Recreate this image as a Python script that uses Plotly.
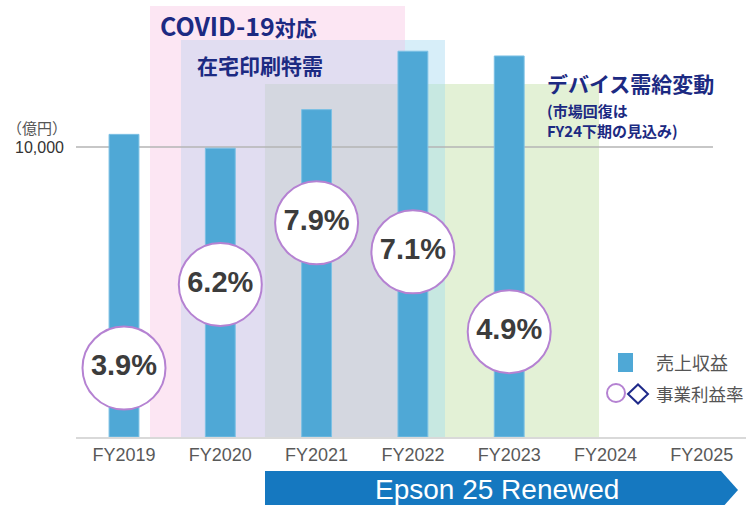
import plotly.graph_objects as go

# ---------------- data ----------------
fiscal_years = ["FY2019", "FY2020", "FY2021", "FY2022", "FY2023", "FY2024", "FY2025"]
revenue = [10436, 9959, 11289, 13303, 13139]          # 売上収益 (億円)
margin = [3.9, 6.2, 7.9, 7.1, 4.9]                    # 事業利益率 (%)
margin_labels = ["3.9%", "6.2%", "7.9%", "7.1%", "4.9%"]

# ---------------- layout constants ----------------
W, H = 746, 505
L, R, T, B = 76, 0, 0, 68
PW, PH = W - L - R, H - T - B

NAVY = "#1c2a82"
JP = "Noto Sans CJK JP"
LAT = "Liberation Sans, Arial"

def xp(px):
    return (px - L) / PW

def yp(py):
    return (H - B - py) / PH

xi = list(range(len(revenue)))

fig = go.Figure()

fig.add_trace(go.Bar(
    x=xi, y=revenue, width=0.31,
    marker=dict(color="#4fa8d6", line=dict(color="#7cc0e4", width=1)),
    hoverinfo="skip", showlegend=False,
))

fig.add_trace(go.Scatter(
    x=xi, y=margin, yaxis="y2", mode="markers+text",
    text=margin_labels, textposition="middle center",
    textfont=dict(family=LAT, size=29, color="#3c3c3c", weight="bold"),
    marker=dict(size=83, color="white", line=dict(color="#b582d2", width=2)),
    hoverinfo="skip", showlegend=False,
))

# background period shapes (category space / value space)
shapes = []
def rect(x0, x1, y0, y1, color):
    shapes.append(dict(type="rect", xref="x", yref="y", x0=x0, x1=x1, y0=y0, y1=y1,
                       fillcolor=color, line=dict(width=0), layer="below"))

rect(0.27, 2.918, 0, 14862, "#fce6f3")   # COVID-19
rect(0.592, 2.918, 0, 13690, "#e1ddf1")  # 在宅印刷特需
rect(2.918, 3.333, 0, 13690, "#d7eef9")
rect(1.464, 2.918, 0, 12172, "#d4d7e0")  # デバイス需給変動
rect(2.918, 3.333, 0, 12172, "#c7e8e1")
rect(3.333, 4.933, 0, 12172, "#e3f1d6")

# 10,000 reference line
shapes.append(dict(type="line", xref="x", yref="y", x0=-0.51, x1=6.116, y0=10000, y1=10000,
                   line=dict(color="#b4b4b4", width=1.5), layer="below"))

# legend markers
shapes.append(dict(type="rect", xref="paper", yref="paper",
                   x0=xp(618), x1=xp(633), y0=yp(372), y1=yp(353),
                   fillcolor="#4fa8d6", line=dict(width=0)))
shapes.append(dict(type="circle", xref="paper", yref="paper",
                   x0=xp(607), x1=xp(625), y0=yp(402), y1=yp(384),
                   fillcolor="white", line=dict(color="#b582d2", width=2)))
shapes.append(dict(type="path", xref="paper", yref="paper",
                   path=f"M {xp(628)} {yp(394)} L {xp(638)} {yp(384.5)} L {xp(648)} {yp(394)} "
                        f"L {xp(638)} {yp(403.5)} Z",
                   fillcolor="rgba(0,0,0,0)", line=dict(color="#1f2a8a", width=2)))

# Epson 25 Renewed banner
shapes.append(dict(type="path", xref="paper", yref="paper",
                   path=f"M {xp(265)} {yp(471)} L {xp(721)} {yp(471)} L {xp(738)} {yp(490)} "
                        f"L {xp(721)} {yp(509)} L {xp(265)} {yp(509)} Z",
                   fillcolor="#1578c0", line=dict(width=0)))

annotations = [
    dict(text="<span style='font-size:25px'>COVID-19</span>対応", x=xp(158), y=yp(25),
         xanchor="left", yanchor="middle", font=dict(family=JP, size=21, color=NAVY, weight="bold")),
    dict(text="在宅印刷特需", x=xp(195), y=yp(65),
         xanchor="left", yanchor="middle", font=dict(family=JP, size=21, color=NAVY, weight="bold")),
    dict(text="デバイス需給変動", x=xp(545), y=yp(83),
         xanchor="left", yanchor="middle", font=dict(family=JP, size=21, color=NAVY, weight="bold")),
    dict(text="(市場回復は<br>FY24下期の見込み)", x=xp(545), y=yp(120), align="left",
         xanchor="left", yanchor="middle", font=dict(family=JP, size=15, color=NAVY, weight="bold")),
    dict(text="（億円）", x=xp(69), y=yp(128),
         xanchor="right", yanchor="middle", font=dict(family=JP, size=15, color="#555555")),
    dict(text="売上収益", x=xp(654), y=yp(362),
         xanchor="left", yanchor="middle", font=dict(family=JP, size=18, color="#555555")),
    dict(text="事業利益率", x=xp(654), y=yp(393),
         xanchor="left", yanchor="middle", font=dict(family=JP, size=17.5, color="#555555")),
    dict(text="Epson 25 Renewed", x=xp(497), y=yp(489),
         xanchor="center", yanchor="middle", font=dict(family=LAT, size=28, color="white")),
]
for a in annotations:
    a.update(xref="paper", yref="paper", showarrow=False)

fig.update_layout(
    width=W, height=H,
    margin=dict(l=L, r=R, t=T, b=B, pad=0),
    paper_bgcolor="white", plot_bgcolor="white",
    shapes=shapes, annotations=annotations,
    hovermode=False,
    xaxis=dict(
        range=[(76 - 124) / 96.3, (746 - 124) / 96.3],
        tickvals=list(range(len(fiscal_years))), ticktext=fiscal_years,
        tickfont=dict(family=LAT, size=18, color="#595959"),
        ticks="", showgrid=False, zeroline=False,
        showline=True, linecolor="#d9d9d9", linewidth=2,
        fixedrange=True,
    ),
    yaxis=dict(
        range=[0, 437 / 0.029],
        tickvals=[10000], ticktext=["10,000"],
        tickfont=dict(family=LAT, size=16, color="#333333"),
        ticks="", ticklabelstandoff=11,
        showgrid=False, zeroline=False, showline=False, fixedrange=True,
    ),
    yaxis2=dict(
        overlaying="y", side="right",
        range=[(509.6 - 437) / 36.3, 509.6 / 36.3],
        showticklabels=False, showgrid=False, zeroline=False, showline=False, fixedrange=True,
    ),
)

fig.write_html("out.html", config={"displayModeBar": False},
               post_script="document.body.style.margin='0';document.body.style.overflow='hidden';")
